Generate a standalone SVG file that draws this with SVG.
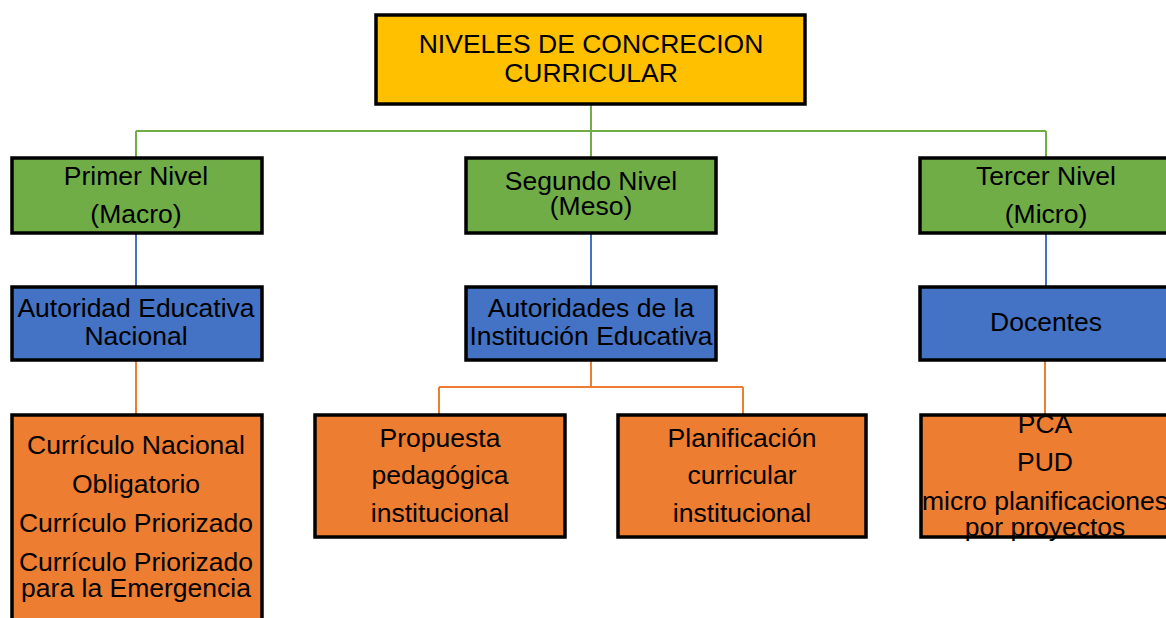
<svg xmlns="http://www.w3.org/2000/svg" width="1166" height="618" viewBox="0 0 1166 618">
<style>
.box{stroke:#000;stroke-width:3.5}
.y{fill:#FFC000}.g{fill:#70AD47}.b{fill:#4472C4}.o{fill:#ED7D31}
text{font-family:"Liberation Sans",Arial,sans-serif;font-size:26.5px;fill:#000;text-anchor:middle}
.cg{stroke:#70AD47;stroke-width:2;fill:none}
.cb{stroke:#4472C4;stroke-width:2;fill:none}
.co{stroke:#ED7D31;stroke-width:2;fill:none}
</style>
<rect width="1166" height="618" fill="#fff"/>
<g id="connectors">
<path class="cg" d="M591 105V158M136 131H1046M136 131V158M1046 131V158"/>
<path class="cb" d="M136 234V287M591 234V287M1046 234V287"/>
<path class="co" d="M136 361V415M591 361V387M439 387H743M439 387V415M743 387V415M1045 361V415"/>
</g>
<g id="n-title"><rect class="box y" x="376" y="15" width="429" height="89"/>
<text x="591" y="53">NIVELES DE CONCRECION</text><text x="591" y="82">CURRICULAR</text></g>
<g id="n-primer"><rect class="box g" x="12" y="158" width="250" height="75"/>
<text x="136" y="185">Primer Nivel</text><text x="136" y="223">(Macro)</text></g>
<g id="n-segundo"><rect class="box g" x="466" y="158" width="250" height="75"/>
<text x="591" y="190">Segundo Nivel</text><text x="591" y="215">(Meso)</text></g>
<g id="n-tercer"><rect class="box g" x="920" y="158" width="250" height="75"/>
<text x="1046" y="185">Tercer Nivel</text><text x="1046" y="223">(Micro)</text></g>
<g id="n-autoridad"><rect class="box b" x="12" y="287" width="250" height="73"/>
<text x="136" y="317">Autoridad Educativa</text><text x="136" y="345">Nacional</text></g>
<g id="n-autoridades"><rect class="box b" x="466" y="287" width="250" height="73"/>
<text x="591" y="317">Autoridades de la</text><text x="591" y="345">Institución Educativa</text></g>
<g id="n-docentes"><rect class="box b" x="920" y="287" width="250" height="73"/>
<text x="1046" y="331">Docentes</text></g>
<g id="n-curriculo"><rect class="box o" x="12" y="415" width="250" height="260"/>
<text x="136" y="454">Currículo Nacional</text><text x="136" y="493">Obligatorio</text><text x="136" y="532">Currículo Priorizado</text><text x="136" y="571">Currículo Priorizado</text><text x="136" y="597">para la Emergencia</text></g>
<g id="n-propuesta"><rect class="box o" x="315" y="415" width="250" height="122"/>
<text x="440" y="447">Propuesta</text><text x="440" y="484">pedagógica</text><text x="440" y="522">institucional</text></g>
<g id="n-planificacion"><rect class="box o" x="618" y="415" width="248" height="122"/>
<text x="742" y="447">Planificación</text><text x="742" y="484">curricular</text><text x="742" y="522">institucional</text></g>
<g id="n-pca"><rect class="box o" x="921" y="415" width="250" height="122"/>
<text x="1045" y="433">PCA</text><text x="1045" y="471">PUD</text><text x="1045" y="510">micro planificaciones</text><text x="1045" y="536">por proyectos</text></g>
</svg>
